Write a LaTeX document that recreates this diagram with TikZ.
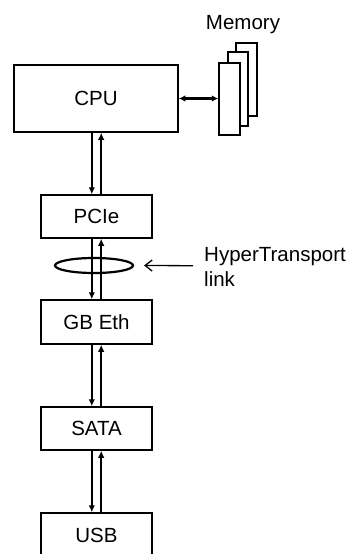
\documentclass[tikz,border=0pt]{standalone}
\usepackage{fontspec}
\setmainfont{Liberation Sans}
\usetikzlibrary{arrows.meta,shapes.geometric}
\begin{document}
\begin{tikzpicture}[x=1pt,y=-1pt,
  box/.style={draw, line width=1.5pt, minimum width=111pt, minimum height=43pt, inner sep=0pt, font=\fontsize{20.5}{24}\selectfont},
  memcard/.style={draw, fill=white, line width=1.5pt, inner sep=0pt},
  busarrow/.style={line width=2.2pt, -{Latex[length=7pt,width=6.5pt]}},
  lbl/.style={font=\fontsize{20.5}{24}\selectfont, inner sep=0pt}]
\useasboundingbox (0,0) rectangle (352,554);
\clip (0,0) rectangle (352,554);
% boxes
\node[box, minimum width=164pt, minimum height=67pt] (cpu) at (96,98.5) {CPU};
\node[box] (pcie) at (96.5,216.5) {PCIe};
\node[box, minimum height=44pt] (eth) at (96.5,322) {GB Eth};
\node[box] (sata) at (96.5,428.5) {SATA};
\node[box, minimum height=44pt] (usb) at (96.5,535) {USB};
% memory stack
\node[memcard, minimum width=21pt, minimum height=73pt] (memb) at (246.5,79.5) {};
\node[memcard, minimum width=20pt, minimum height=74pt] (memm) at (238,89) {};
\node[memcard, minimum width=21pt, minimum height=72pt] (memf) at (229.5,99) {};
\node[lbl, anchor=base] (memlbl) at (243,29.5) {Memory};
% cpu - memory
\draw[line width=2.2pt, {Latex[length=6.5pt,width=6.5pt]}-{Latex[length=6.5pt,width=6.5pt]}] (cpu.east) -- (cpu.east -| memf.west);
% vertical links
\foreach \a/\b in {cpu/pcie, pcie/eth, eth/sata, sata/usb}{
  \draw[busarrow] ([xshift=-4.7pt]\b.north |- \a.south) -- ([xshift=-4.7pt]\b.north);
  \draw[busarrow] ([xshift=4.7pt]\b.north) -- ([xshift=4.7pt]\b.north |- \a.south);
}
% HyperTransport link
\node[draw, ellipse, line width=2.2pt, minimum width=78pt, minimum height=15pt, inner sep=0pt] (ht) at (94,265.5) {};
\coordinate (hta) at (193,265.7);
\draw[line width=1.3pt, -{Straight Barb[length=7pt,width=11pt]}] (hta) -- ([xshift=10pt]ht.east);
\node[lbl, anchor=base west] (htl) at (204,261.7) {HyperTransport};
\node[lbl, anchor=base west] (htl2) at (204,286.7) {link};
\end{tikzpicture}
\end{document}
